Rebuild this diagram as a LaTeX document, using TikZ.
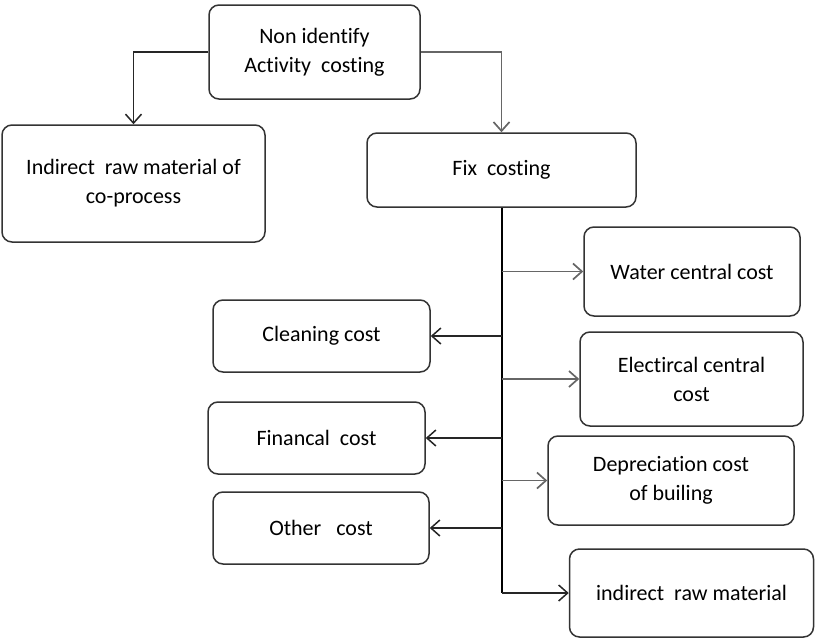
\documentclass[tikz,border=0pt]{standalone}
\usepackage{fontspec}
\setmainfont{Carlito}[Ligatures={NoCommon}]
\usetikzlibrary{arrows.meta}
\tikzset{
>={Straight Barb[length=9pt,width=16pt]}, % open arrow tips everywhere
my box/.style={draw=black!80,line width=1.5pt,rounded corners=3.5mm,inner sep=0pt,align=center,
  font=\fontsize{22}{29}\selectfont},
box size/.style 2 args={minimum width=#1,minimum height=#2},
dark link/.style={->,draw=black!85,line width=1.5pt},
light link/.style={->,draw=black!60,line width=1.7pt},
trunk/.style={draw=black,line width=2pt}
}
\begin{document}
\begin{tikzpicture}[x=1pt,y=-1pt]
\useasboundingbox (0,0) rectangle (815,640);
% top level
\node[my box,box size={211pt}{94pt}] (top) at (314.5,52) {Non identify\\Activity\ \ costing};
\node[my box,box size={263pt}{117pt}] (coproc) at (133.5,183.5) {Indirect\ \ raw material of\\co-process};
\node[my box,box size={269pt}{74pt}] (fix) at (501.5,170) {Fix\ \ costing};
% right branch
\node[my box,box size={216pt}{89pt}] (water) at (692,271.5) {Water central cost};
\node[my box,box size={223pt}{94pt}] (elec) at (691.5,379) {Electircal central\\cost};
\node[my box,box size={246pt}{89pt}] (depr) at (671,480.5) {Depreciation cost\\of builing};
\node[my box,box size={244pt}{88pt}] (rawmat) at (691.5,593) {indirect\ \ raw material};
% left branch
\node[my box,box size={217pt}{72pt}] (clean) at (321.5,336) {Cleaning cost};
\node[my box,box size={217pt}{72pt}] (finan) at (316.5,438) {Financal\ \ cost};
\node[my box,box size={216pt}{72pt}] (other) at (321,528) {Other\ \ \ cost};
% connectors
\draw[dark link] (top.west) -| (coproc.north);
\draw[light link] (top.east) -| (fix.north);
\draw[trunk] (fix.south) -- (fix.south |- rawmat.west);
\draw[dark link] (fix.south |- rawmat.west) -- (rawmat.west);
\foreach \n in {water,elec,depr}
  \draw[light link] (fix.south |- \n.west) -- (\n.west);
\foreach \n in {clean,finan,other}
  \draw[dark link] (fix.south |- \n.east) -- (\n.east);
\end{tikzpicture}
\end{document}
